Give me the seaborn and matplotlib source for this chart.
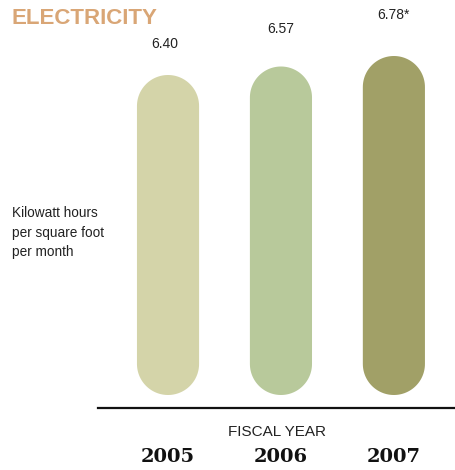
import matplotlib
matplotlib.use("Agg")
import matplotlib.pyplot as plt
import seaborn as sns
import pandas as pd
import numpy as np
from matplotlib.patches import Polygon

# Data
years = ["2005", "2006", "2007"]
kwh = [6.40, 6.57, 6.78]
value_labels = ["6.40", "6.57", "6.78*"]
bar_colors = ["#d4d4a9", "#b8c99b", "#a1a067"]

df = pd.DataFrame({"year": years, "kwh": kwh})

sns.set_style("white")
plt.rcParams["font.family"] = ["Liberation Sans", "DejaVu Sans"]

fig = plt.figure(figsize=(4.56, 4.70), dpi=100)
ax = fig.add_axes([98 / 456, 62 / 470, 358 / 456, 378 / 470])

sns.barplot(data=df, x="year", y="kwh", hue="year", palette=bar_colors,
            width=0.55, saturation=1, legend=False, ax=ax)
ax.set_xlim(-0.62, 2.55)
ax.set_ylim(-0.26, 7.3)

# swap the rectangles for rounded pills
fig.canvas.draw()
bbox = ax.get_window_extent()
x_per_px = (ax.get_xlim()[1] - ax.get_xlim()[0]) / bbox.width
y_per_px = (ax.get_ylim()[1] - ax.get_ylim()[0]) / bbox.height
aspect = y_per_px / x_per_px
t = np.linspace(0, np.pi, 60)
for p in list(ax.patches):
    x, w, h = p.get_x(), p.get_width(), p.get_height()
    color = p.get_facecolor()
    p.set_visible(False)
    rx = w / 2
    ry = rx * aspect
    cx = x + rx
    top = np.column_stack([cx + rx * np.cos(t), h - ry + ry * np.sin(t)])
    bot = np.column_stack([cx - rx * np.cos(t), ry - ry * np.sin(t)])
    ax.add_patch(Polygon(np.vstack([top, bot]), closed=True,
                         facecolor=color, edgecolor="none"))

# value labels above the bars
label_pad = [17, 22, 24.5]
for i, (v, lab) in enumerate(zip(kwh, value_labels)):
    ax.annotate(lab, (i, v), xytext=(-2 if i == 0 else 0, label_pad[i]),
                textcoords="offset points", ha="center", va="bottom",
                fontsize=10, color="#222222")

# axes styling
for s in ["top", "left", "right"]:
    ax.spines[s].set_visible(False)
ax.spines["bottom"].set_linewidth(1.6)
ax.spines["bottom"].set_color("#111111")
ax.set_yticks([])
ax.set_ylabel("")
ax.set_xlabel("")
ax.tick_params(axis="x", length=0, pad=29)
ax.set_xticks(range(len(years)))
ax.set_xticklabels(years, family=["DejaVu Serif"], fontweight="bold",
                   fontsize=14, color="#111111")

ax.text(0.5, -0.045, "FISCAL YEAR", transform=ax.transAxes, ha="center",
        va="top", fontsize=11, color="#222222")

fig.text(12 / 456, 1 - 8 / 470, "ELECTRICITY", ha="left", va="top",
         fontsize=16, fontweight="bold", color="#d9a676",
         family=["Liberation Sans Narrow", "Liberation Sans", "DejaVu Sans"])

fig.text(12 / 456, 1 - 206 / 470,
         "Kilowatt hours\nper square foot\nper month",
         ha="left", va="top", fontsize=9.8, linespacing=1.5, color="#222222")

fig.savefig("out.png", dpi=100)
